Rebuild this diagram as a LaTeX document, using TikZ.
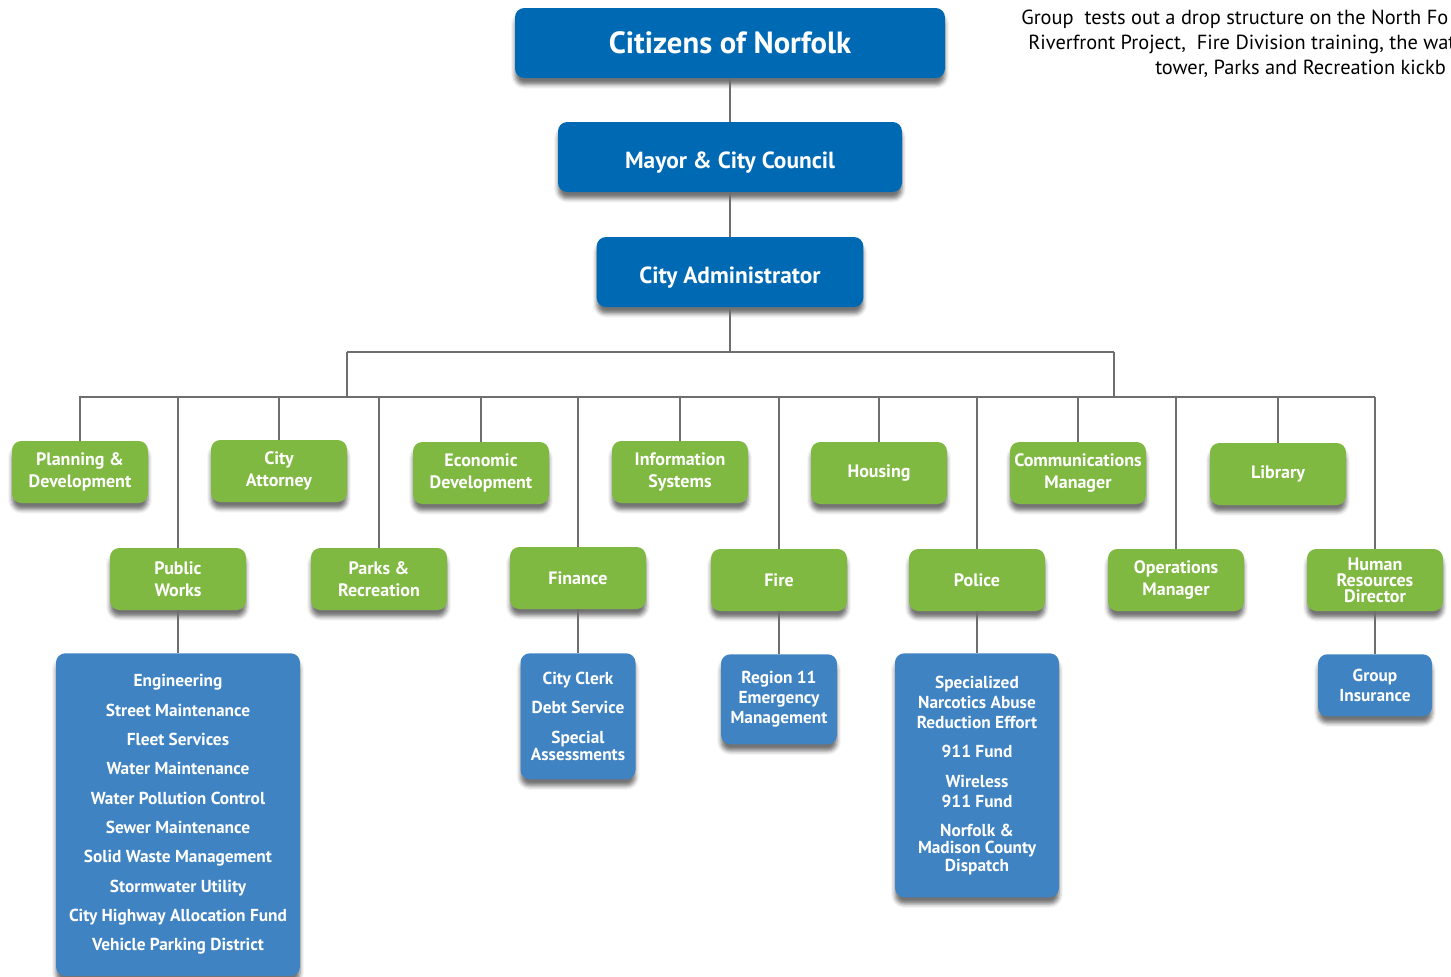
\documentclass[tikz,border=0pt]{standalone}
\usepackage{fontspec}
\setmainfont{PT Sans}
\usetikzlibrary{shadows.blur}

\definecolor{topblue}{RGB}{0,105,180}
\definecolor{deptgreen}{RGB}{128,185,65}
\definecolor{subblue}{RGB}{63,131,195}
\definecolor{linegray}{RGB}{110,110,113}

\begin{document}
\begin{tikzpicture}[x=0.75pt, y=-0.75pt,
    box/.style={rounded corners=7pt, text=white, align=center, inner sep=0pt,
        blur shadow={shadow xshift=0pt, shadow yshift=-5pt, shadow blur radius=3pt, shadow opacity=55}},
    headbox/.style={box, fill=topblue, minimum height=52.5pt, font=\bfseries\fontsize{17.5}{20}\selectfont},
    deptbox/.style={box, fill=deptgreen, minimum width=102pt, minimum height=46.5pt, font=\bfseries\fontsize{13.5}{16.5}\selectfont},
    subbox/.style={box, fill=subblue, font=\bfseries\fontsize{13}{13}\selectfont},
    wire/.style={color=linegray, line width=1.3pt},
    note/.style={anchor=base west, inner sep=0pt, font=\fontsize{15.3}{18}\selectfont}]

    \useasboundingbox (0, 0) rectangle (1451, 976);

    % top of the chart
    \node[headbox, minimum width=322.5pt, font=\bfseries\fontsize{23}{26}\selectfont] (citizens) at (730, 43) {Citizens of Norfolk};
    \node[headbox, minimum width=258pt, text height=16.5pt, text depth=0pt] (mayor) at (730, 157) {Mayor \& City Council};
    \node[headbox, minimum width=200pt, text height=16.5pt, text depth=0pt] (admin) at (730, 272) {City Administrator};

    \draw[wire] (citizens) -- (mayor);
    \draw[wire] (mayor) -- (admin);

    \coordinate (hub) at (730, 352);
    \coordinate (busAL) at (347, 352);
    \coordinate (busAR) at (1114, 352);
    \coordinate (busBL) at (79, 397);
    \coordinate (busBR) at (1375, 397);

    \draw[wire] (admin) -- (hub);
    \draw[wire] (busAL) -- (busAR);
    \draw[wire] (busAL) -- (busAL |- busBL);
    \draw[wire] (busAR) -- (busAR |- busBL);
    \draw[wire] (busBL) -- (busBR);

    % departments, upper row
    \node[deptbox] (planning) at (80, 472) {Planning \&\\Development};
    \node[deptbox] (attorney) at (279, 471) {City\\Attorney};
    \node[deptbox] (econdev) at (481, 473) {Economic\\Development};
    \node[deptbox] (infosys) at (680, 472) {Information\\Systems};
    \node[deptbox] (housing) at (879, 473) {Housing};
    \node[deptbox] (commmgr) at (1078, 473) {Communications\\Manager};
    \node[deptbox] (library) at (1278, 474) {Library};

    % departments, lower row
    \node[deptbox] (pworks) at (178, 579) {Public\\Works};
    \node[deptbox] (parks) at (379, 579) {Parks \&\\Recreation};
    \node[deptbox] (finance) at (578, 578) {Finance};
    \node[deptbox] (fire) at (779, 580) {Fire};
    \node[deptbox] (police) at (977, 580) {Police};
    \node[deptbox] (opsmgr) at (1176, 580) {Operations\\Manager};
    \node[deptbox] (hrdir) at (1375, 580) {Human\\[-4.5pt]Resources\\[-4.5pt]Director};

    \foreach \d in {planning, attorney, econdev, infosys, housing, commmgr, library,
                    pworks, parks, finance, fire, police, opsmgr, hrdir}
        \draw[wire] (\d.north) -- (\d.north |- busBL);

    % divisions
    \node[subbox, minimum width=183pt, minimum height=242pt, anchor=north] (pworkssub) at (178, 653)
        {Engineering\\[9pt]Street Maintenance\\[9pt]Fleet Services\\[9pt]Water Maintenance\\[9pt]Water Pollution Control\\[9pt]Sewer Maintenance\\[9pt]Solid Waste Management\\[9pt]Stormwater Utility\\[9pt]City Highway Allocation Fund\\[9pt]Vehicle Parking District};
    \node[subbox, minimum width=86.25pt, minimum height=94.5pt, anchor=north] (financesub) at (578, 653)
        {City Clerk\\[9pt]Debt Service\\[9pt]Special\\Assessments};
    \node[subbox, minimum width=87pt, minimum height=67.5pt, anchor=north] (firesub) at (779, 654)
        {Region 11\\[2pt]Emergency\\[2pt]Management};
    \node[subbox, minimum width=123pt, minimum height=183pt, anchor=north] (policesub) at (977, 653)
        {Specialized\\[2pt]Narcotics Abuse\\[2pt]Reduction Effort\\[9pt]911 Fund\\[9pt]Wireless\\[2pt]911 Fund\\[9pt]Norfolk \&\\Madison County\\Dispatch};
    \node[subbox, minimum width=85.5pt, minimum height=46.5pt, anchor=north] (hrsub) at (1375, 654)
        {Group\\[2pt]Insurance};

    \draw[wire] (pworks) -- (pworkssub);
    \draw[wire] (finance) -- (financesub);
    \draw[wire] (fire) -- (firesub);
    \draw[wire] (police) -- (policesub);
    \draw[wire] (hrdir) -- (hrsub);

    % caption text cut at the right edge
    \node[note] (note1) at (1021, 24) {Group\ \ tests out a drop structure on the North Fo};
    \node[note] (note2) at (1028, 49) {Riverfront Project,\ \ Fire Division training, the wat};
    \node[note] (note3) at (1155, 74) {tower, Parks and Recreation kickb};
\end{tikzpicture}
\end{document}
